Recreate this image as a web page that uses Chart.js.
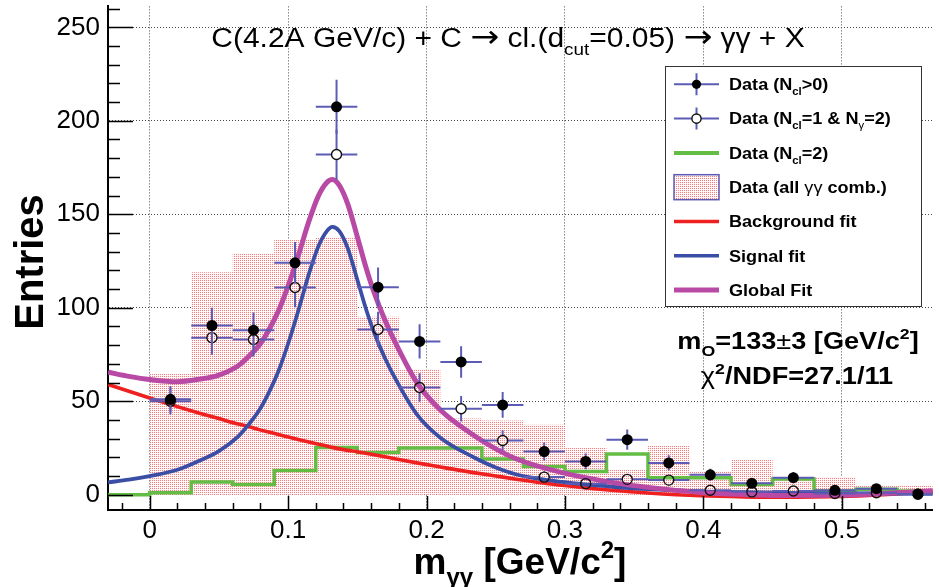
<!DOCTYPE html>
<html>
<head>
<meta charset="utf-8">
<script src="https://cdn.jsdelivr.net/npm/chart.js@4.4.1/dist/chart.umd.min.js"></script>
<style>
  html, body { margin: 0; padding: 0; background: #ffffff; }
  canvas { display: block; }
</style>
</head>
<body>
<canvas id="chart" width="939" height="587"></canvas>
<script>
// ---- di-photon invariant mass, 0.03 GeV/c^2 bins ----
const binEdges = [0, 0.03, 0.06, 0.09, 0.12, 0.15, 0.18, 0.21, 0.24, 0.27, 0.30,
                  0.33, 0.36, 0.39, 0.42, 0.45, 0.48, 0.51, 0.54, 0.57];
const binCenters = [0.015, 0.045, 0.075, 0.105, 0.135, 0.165, 0.195, 0.225, 0.255, 0.285,
                    0.315, 0.345, 0.375, 0.405, 0.435, 0.465, 0.495, 0.525, 0.555];
const binHalfWidth = [0.015, 0.015, 0.015, 0.015, 0.015, 0.015, 0.015, 0.015, 0.015, 0.015,
                      0.015, 0.015, 0.015, 0.015, 0.015, 0.015, 0.015, 0.015, 0.015];

// all gamma-gamma combinations (hatched histogram)
const allCombinations = [64.5, 119, 129, 136.3, 137.6, 95.2, 67, 40.7, 39.7, 37.4,
                         24.9, 13.3, 26.1, 12.6, 18.6, 8.5, 9.4, 5.0, 5.0];

// N_cl = 2 histogram, edges start one bin below zero
const ncl2Edges = [-0.03, 0, 0.03, 0.06, 0.09, 0.12, 0.15, 0.18, 0.21, 0.24, 0.27,
                   0.30, 0.33, 0.36, 0.39, 0.42, 0.45, 0.48, 0.51, 0.54, 0.57];
const ncl2Counts = [0, 1, 6.8, 5.4, 12.9, 25.3, 22.6, 24.9, 24.9, 19.1, 15.1,
                    12.4, 21.8, 9.1, 9.1, 5.5, 8.4, 2.0, 2.9, 2.0];

// N_cl > 0
const nclPos = [51, 90.5, 88, 124, 207.5, 111, 82, 71, 48, 23.1,
                17.8, 29.4, 17, 10.6, 6.1, 9.1, 2.3, 3.2, 0.4];
const nclPosErr = [7.1, 9.5, 9.4, 11.1, 14.4, 10.5, 9.1, 8.4, 6.9, 4.8,
                   4.2, 5.4, 4.1, 3.3, 2.5, 3.0, 1.5, 1.8, 0.6];

// N_cl = 1 & N_gamma = 2
const ncl1 = [50, 84, 83, 110.8, 182, 88.4, 57.3, 46, 29, 9.4,
              5.9, 8.2, 7.8, 2.4, 1.5, 2.0, 0.6, 1.0, 0.2];
const ncl1Err = [7.1, 9.2, 9.1, 10.5, 13.5, 9.4, 7.6, 6.8, 5.4, 3.1,
                 2.4, 2.9, 2.8, 1.5, 1.2, 1.4, 0.8, 1.0, 0.4];

// fit curves sampled along the mass axis
const curveX = [-0.03, -0.015, 0, 0.02, 0.036, 0.05, 0.064, 0.072, 0.079, 0.086,
                0.093, 0.101, 0.108, 0.115, 0.122, 0.128, 0.132, 0.137, 0.143, 0.150,
                0.156, 0.162, 0.170, 0.179, 0.193, 0.210, 0.234, 0.25, 0.265, 0.298,
                0.336, 0.36, 0.398, 0.43, 0.455, 0.5, 0.53, 0.566];
const backgroundFit = [58.9, 55.3, 51.7, 47.1, 43.6, 40.7, 37.8, 36.3, 34.8, 33.5,
                       32.2, 30.7, 29.4, 28.2, 27.0, 26.0, 25.3, 24.5, 23.7, 23.0,
                       22.2, 21.4, 20.3, 19.0, 17.0, 14.8, 11.8, 10.0, 8.3, 5.0,
                       2.2, 0.9, -0.6, -1.2, -1.4, -1.0, 0.0, 1.6];
const signalFit = [6.6, 8.0, 9.9, 13.3, 18.2, 23.3, 31.2, 38, 45, 54.5,
                   66, 83, 100, 118, 133, 141, 143.3, 141, 132, 115,
                   100, 87, 73, 60, 43, 30.5, 20, 14.5, 10.8, 6.8,
                   4.1, 3.0, 1.8, 1.3, 1.0, 0.7, 0.6, 0.5];
const globalFit = [65.5, 63.3, 61.6, 60.4, 61.8, 64.0, 69.0, 74.3, 79.8, 88.0,
                   98.2, 113.7, 129.4, 146.2, 160.0, 167.0, 168.6, 165.5, 155.7, 138.0,
                   122.2, 108.4, 93.3, 79.0, 60.0, 45.3, 31.8, 24.5, 19.1, 11.8,
                   6.3, 3.9, 1.2, 0.1, -0.4, -0.3, 0.6, 2.1];

// axis ticks
const xTickValues = [0, 0.1, 0.2, 0.3, 0.4, 0.5];
const xTickLabels = ['0', '0.1', '0.2', '0.3', '0.4', '0.5'];
const yTickValues = [0, 50, 100, 150, 200, 250];
const yTickLabels = ['0', '50', '100', '150', '200', '250'];

// ---- styling ----
const FONT = '"Liberation Sans", Arial, Helvetica, sans-serif';
const ARROW_FONT = '"DejaVu Sans", sans-serif';
const COL = {
  red: '#ee2020', blue: '#3a4ea6', magenta: '#b84aa6', green: '#63bc44',
  err: '#5c5cb6'
};
const fontOf = (size, bold, fam) => (bold ? 'bold ' : '') + size + 'px ' + (fam || FONT);

const canvas = document.getElementById('chart');
const ctx0 = canvas.getContext('2d');

// light dotted fill for the all-combinations histogram
function makeHatch() {
  const t = document.createElement('canvas');
  t.width = 2; t.height = 2;
  const g = t.getContext('2d');
  g.fillStyle = '#fff7f7'; g.fillRect(0, 0, 2, 2);
  g.fillStyle = '#f37c7c'; g.fillRect(0, 0, 1, 1);
  return ctx0.createPattern(t, 'repeat');
}
const hatch = makeHatch();

function stepPoints(edges, values) {
  const pts = values.map((v, i) => ({ x: edges[i], y: v }));
  pts.push({ x: edges[values.length], y: values[values.length - 1] });
  return pts;
}
const pairs = (xs, ys) => ys.map((v, i) => ({ x: xs[i], y: v }));

// text with sub/superscripts: parts = [{t, m:'sub'|'sup', plain, fam, k}]
function drawRich(ctx, parts, x, y, o) {
  const size = o.size, bold = !!o.bold, sx = o.sx || 1;
  const small = Math.round(size * 0.64);
  ctx.save();
  ctx.translate(x, y);
  if (o.rot) ctx.rotate(o.rot);
  ctx.scale(sx, 1);
  ctx.fillStyle = o.color || '#000';
  ctx.textBaseline = 'alphabetic';
  ctx.textAlign = 'left';
  const fontFor = p => fontOf(Math.round((p.m ? small : size) * (p.k || 1)), p.plain ? false : bold, p.fam);
  let w = 0;
  parts.forEach(p => { ctx.font = fontFor(p); w += ctx.measureText(p.t).width; });
  let cx = o.align === 'center' ? -w / 2 : (o.align === 'right' ? -w : 0);
  parts.forEach(p => {
    ctx.font = fontFor(p);
    const dy = (p.m === 'sub' ? size * 0.3 : (p.m === 'sup' ? -size * 0.42 : 0)) + (p.dy || 0);
    ctx.fillText(p.t, cx, dy);
    cx += ctx.measureText(p.t).width;
  });
  ctx.restore();
}

// white page behind the canvas
const whiteBg = {
  id: 'whiteBg',
  beforeDraw(chart) {
    const c = chart.ctx;
    c.save(); c.fillStyle = '#fff'; c.fillRect(0, 0, chart.width, chart.height); c.restore();
  }
};

// horizontal + vertical error bars drawn just before each marker dataset
const errorBars = {
  id: 'errorBars',
  beforeDatasetDraw(chart, args) {
    const ds = chart.data.datasets[args.index];
    if (!ds.errY) return;
    const c = chart.ctx, xs = chart.scales.x, ys = chart.scales.y, a = chart.chartArea;
    c.save();
    c.beginPath(); c.rect(a.left, a.top, a.right - a.left, a.bottom - a.top); c.clip();
    c.strokeStyle = COL.err; c.lineWidth = 2;
    const gap = ds.hollow ? ds.pointRadius : 0;
    ds.data.forEach((p, i) => {
      const px = xs.getPixelForValue(p.x), py = ys.getPixelForValue(p.y);
      const xl = xs.getPixelForValue(p.x - ds.errX[i]), xr = xs.getPixelForValue(p.x + ds.errX[i]);
      const yt = ys.getPixelForValue(p.y + ds.errY[i]), yb = ys.getPixelForValue(p.y - ds.errY[i]);
      c.beginPath();
      c.moveTo(xl, py); c.lineTo(px - gap, py);
      c.moveTo(px + gap, py); c.lineTo(xr, py);
      if (yt < py - gap) { c.moveTo(px, yt); c.lineTo(px, py - gap); }
      if (yb > py + gap) { c.moveTo(px, py + gap); c.lineTo(px, yb); }
      c.stroke();
    });
    c.restore();
  }
};

// inward major/minor ticks on the frame
const frameTicks = {
  id: 'frameTicks',
  afterDatasetsDraw(chart) {
    const c = chart.ctx, a = chart.chartArea, xs = chart.scales.x, ys = chart.scales.y;
    c.save();
    c.strokeStyle = '#000'; c.lineWidth = 1.5;
    c.beginPath();
    for (let k = 0; k * 10 <= ys.max; k++) {
      const py = Math.round(ys.getPixelForValue(k * 10)) + 0.5;
      const len = k % 5 === 0 ? 25 : 12;
      c.moveTo(a.left, py); c.lineTo(a.left + len, py);
    }
    for (let k = -1; k * 0.02 <= xs.max; k++) {
      const v = k * 0.02;
      if (v < xs.min) continue;
      const px = Math.round(xs.getPixelForValue(v)) + 0.5;
      const len = k % 5 === 0 ? 14 : 7;
      c.moveTo(px, a.bottom); c.lineTo(px, a.bottom - len);
    }
    c.stroke();
    c.restore();
  }
};

// titles, legend box and fit summary
const annotations = {
  id: 'annotations',
  afterDraw(chart) {
    const c = chart.ctx;
    // headline
    const arrow = { t: '\u2192', plain: true, fam: ARROW_FONT, k: 1.15 };
    drawRich(c, [
      { t: 'C(4.2A GeV/c) + C ' }, arrow, { t: ' cl.(d' }, { t: 'cut', m: 'sub' },
      { t: '=0.05) ' }, arrow, { t: ' \u03b3\u03b3 + X' }
    ], 508, 47, { size: 27, sx: 1.11, align: 'center' });

    // axis titles
    drawRich(c, [{ t: 'Entries' }], 43, 262, { size: 40, bold: true, align: 'center', rot: -Math.PI / 2 });
    drawRich(c, [
      { t: 'm' }, { t: '\u03b3\u03b3', m: 'sub' }, { t: ' [GeV/c' }, { t: '2', m: 'sup' }, { t: ']' }
    ], 520, 574, { size: 37, bold: true, align: 'center' });

    // fit summary
    drawRich(c, [
      { t: 'm' }, { t: 'O', m: 'sub' }, { t: '=133' }, { t: '\u00b1', plain: true },
      { t: '3 [GeV/c' }, { t: '2', m: 'sup' }, { t: ']' }
    ], 798, 349, { size: 23, bold: true, sx: 1.18, align: 'center' });
    drawRich(c, [
      { t: '\u03c7', plain: true }, { t: '2', m: 'sup' }, { t: '/NDF=27.1/11' }
    ], 797, 384, { size: 23, bold: true, sx: 1.18, align: 'center' });

    // legend
    const L = { x: 665.5, y: 66.5, w: 256, h: 240 };
    c.save();
    c.fillStyle = '#fff'; c.fillRect(L.x, L.y, L.w, L.h);
    c.strokeStyle = '#333'; c.lineWidth = 1; c.strokeRect(L.x, L.y, L.w, L.h);
    c.restore();
    const rows = [
      { kind: 'filled', parts: [{ t: 'Data (N' }, { t: 'cl', m: 'sub' }, { t: '>0)' }] },
      { kind: 'open', parts: [{ t: 'Data (N' }, { t: 'cl', m: 'sub' }, { t: '=1 & N' }, { t: '\u03b3', m: 'sub', plain: true }, { t: '=2)' }] },
      { kind: 'line', color: COL.green, w: 4, parts: [{ t: 'Data (N' }, { t: 'cl', m: 'sub' }, { t: '=2)' }] },
      { kind: 'box', parts: [{ t: 'Data (all ' }, { t: '\u03b3\u03b3', plain: true }, { t: ' comb.)' }] },
      { kind: 'line', color: COL.red, w: 3.5, parts: [{ t: 'Background fit' }] },
      { kind: 'line', color: COL.blue, w: 3.5, parts: [{ t: 'Signal fit' }] },
      { kind: 'line', color: COL.magenta, w: 5, parts: [{ t: 'Global Fit' }] }
    ];
    const x0 = 674, x1 = 719, xm = (x0 + x1) / 2;
    rows.forEach((r, i) => {
      const cy = 84.3 + i * 34.3;
      c.save();
      if (r.kind === 'filled' || r.kind === 'open') {
        c.strokeStyle = COL.err; c.lineWidth = 2;
        const gap = r.kind === 'open' ? 4.5 : 0;
        c.beginPath();
        c.moveTo(x0, cy); c.lineTo(xm - gap, cy); c.moveTo(xm + gap, cy); c.lineTo(x1, cy);
        c.moveTo(xm, cy - 11); c.lineTo(xm, cy - gap); c.moveTo(xm, cy + gap); c.lineTo(xm, cy + 11);
        c.stroke();
        c.beginPath(); c.arc(xm, cy, 4.6, 0, Math.PI * 2);
        if (r.kind === 'filled') { c.fillStyle = '#000'; c.fill(); }
        else { c.strokeStyle = '#111'; c.lineWidth = 1.4; c.stroke(); }
      } else if (r.kind === 'line') {
        c.strokeStyle = r.color; c.lineWidth = r.w;
        c.beginPath(); c.moveTo(x0, cy); c.lineTo(x1, cy); c.stroke();
      } else if (r.kind === 'box') {
        c.fillStyle = hatch; c.fillRect(x0, cy - 12.5, x1 - x0, 25);
        c.strokeStyle = COL.err; c.lineWidth = 1.5; c.strokeRect(x0, cy - 12.5, x1 - x0, 25);
      }
      c.restore();
      drawRich(c, r.parts, 729, cy + 5.8, { size: 16, bold: true, sx: 1.13 });
    });
  }
};

// the frame fills the canvas edge to edge: no extra label padding
const noPad = s => { s.paddingTop = 0; s.paddingBottom = 0; s.paddingLeft = 0; s.paddingRight = 0; };

new Chart(canvas, {
  type: 'line',
  data: {
    datasets: [
      {
        label: 'Data (N_cl>0)', data: pairs(binCenters, nclPos),
        errX: binHalfWidth, errY: nclPosErr, hollow: false,
        showLine: false, pointRadius: 5.5, pointBackgroundColor: '#000',
        pointBorderWidth: 0, pointBorderColor: '#000', order: 0
      },
      {
        label: 'Data (N_cl=1 & N_gamma=2)', data: pairs(binCenters, ncl1),
        errX: binHalfWidth, errY: ncl1Err, hollow: true,
        showLine: false, pointRadius: 5, pointBackgroundColor: 'rgba(0,0,0,0)',
        pointBorderWidth: 1.4, pointBorderColor: '#111', order: 1
      },
      {
        label: 'Global Fit', data: pairs(curveX, globalFit),
        borderColor: COL.magenta, borderWidth: 5, pointRadius: 0,
        cubicInterpolationMode: 'monotone', fill: false, order: 2
      },
      {
        label: 'Signal fit', data: pairs(curveX, signalFit),
        borderColor: COL.blue, borderWidth: 3.8, pointRadius: 0,
        cubicInterpolationMode: 'monotone', fill: false, order: 3
      },
      {
        label: 'Background fit', data: pairs(curveX, backgroundFit),
        borderColor: COL.red, borderWidth: 3.6, pointRadius: 0,
        cubicInterpolationMode: 'monotone', fill: false, order: 4
      },
      {
        label: 'Data (N_cl=2)', data: stepPoints(ncl2Edges, ncl2Counts),
        borderColor: COL.green, borderWidth: 3.5, pointRadius: 0,
        stepped: 'before', fill: false, order: 5
      },
      {
        label: 'Data (all gamma-gamma comb.)', data: stepPoints(binEdges, allCombinations),
        borderWidth: 0, borderColor: 'rgba(0,0,0,0)', backgroundColor: hatch,
        pointRadius: 0, stepped: 'before', fill: 'origin', order: 6
      }
    ]
  },
  options: {
    responsive: false,
    animation: false,
    devicePixelRatio: 1,
    layout: { padding: 0 },
    events: [],
    plugins: { legend: { display: false }, tooltip: { enabled: false }, title: { display: false } },
    scales: {
      x: {
        type: 'linear', min: -0.0301, max: 0.5656,
        afterFit: s => { s.height = 77; noPad(s); },
        grid: { color: '#4a4a4a', lineWidth: 1, drawTicks: false },
        border: { display: true, color: '#000', width: 2, dash: [1, 2] },
        ticks: {
          stepSize: 0.1, includeBounds: false, autoSkip: false, maxRotation: 0, minRotation: 0,
          padding: 5, color: '#000', font: { family: FONT, size: 26 },
          callback: v => { const i = xTickValues.findIndex(t => Math.abs(t - v) < 1e-6); return i < 0 ? '' : xTickLabels[i]; }
        }
      },
      y: {
        type: 'linear', min: -8.2, max: 261.2,
        afterFit: s => { s.width = 108; noPad(s); },
        grid: { color: '#4a4a4a', lineWidth: 1, drawTicks: false },
        border: { display: true, color: '#000', width: 2, dash: [1, 2] },
        ticks: {
          stepSize: 50, includeBounds: false, autoSkip: false,
          padding: 8, color: '#000', font: { family: FONT, size: 26 },
          callback: v => { const i = yTickValues.indexOf(v); return i < 0 ? '' : yTickLabels[i]; }
        }
      }
    }
  },
  plugins: [whiteBg, errorBars, frameTicks, annotations]
});
</script>
</body>
</html>
